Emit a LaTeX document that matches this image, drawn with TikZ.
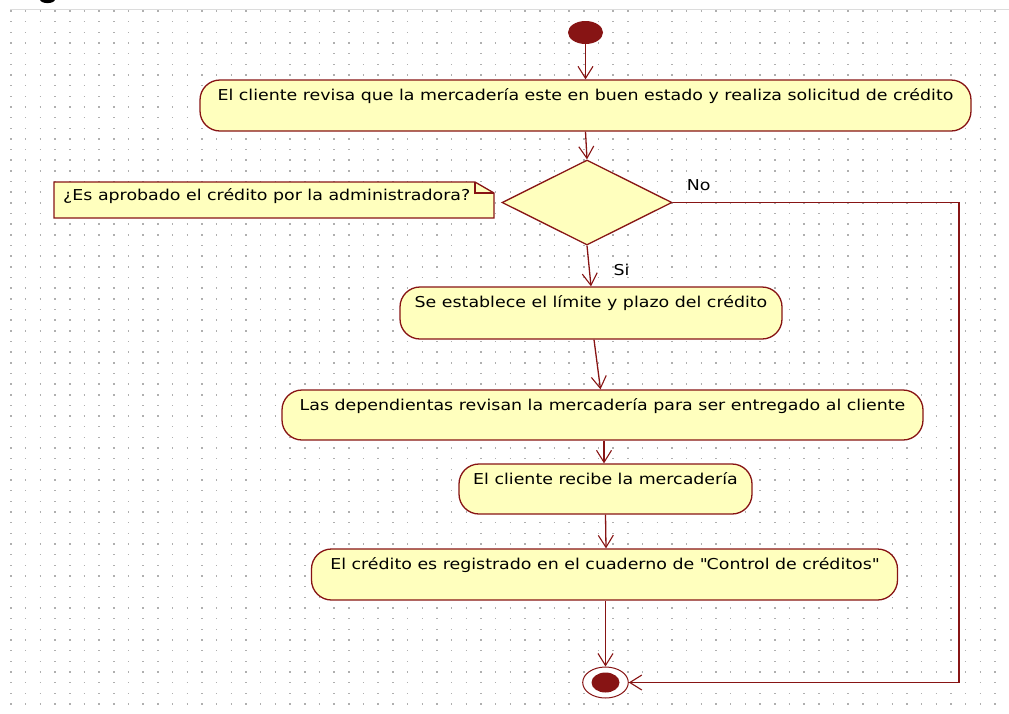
\documentclass[tikz,border=0pt]{standalone}
\usepackage{fontspec}
\setmainfont{DejaVu Sans}[FakeStretch=1.16]
\usetikzlibrary{shapes.geometric,arrows.meta}
\definecolor{umlred}{RGB}{135,20,20}
\definecolor{umlfill}{RGB}{255,255,190}
\definecolor{griddot}{RGB}{175,175,175}
\definecolor{frameline}{RGB}{220,220,220}
\newcommand{\umltext}{\fontsize{15}{18}\selectfont}
\begin{document}
\begin{tikzpicture}[x=1pt,y=-1pt,
  lbl/.style={font=\umltext, inner sep=0pt, text=black},
  action/.style={draw=umlred, fill=umlfill, line width=1.3pt, rounded corners=20pt,
    inner xsep=0pt, inner ysep=0pt, text height=20pt, font=\umltext},
  flow/.style={draw=umlred, line width=1.3pt,
    -{Straight Barb[length=12pt,width=15pt,line width=1.1pt]}},
  notebox/.style={draw=umlred, fill=umlfill, line width=1.3pt},
  startnode/.style={ellipse, fill=umlred, inner sep=0pt},
]
\useasboundingbox (0,0) rectangle (1009,713);

% canvas edge and dotted grid
\draw[frameline, line width=1pt] (10,9.5) -- (1009,9.5);
\foreach \j in {0,...,65}{
  \draw[griddot, line width=1.5pt, dash pattern=on 1.5pt off 13.1875pt]
    (10.25,{11+10.66*\j}) -- (1009,{11+10.66*\j});
}

% lower edge of the title lettering above the canvas
\begin{scope}
  \clip (0,0) rectangle (1009,9);
  \fill[black] (47.5,-0.5) ellipse [x radius=7.5, y radius=3.6];
\end{scope}

% initial node
\node[startnode, minimum width=35pt, minimum height=23pt] (start) at (585.5,32.5) {};

% actions
\node[action, minimum width=771pt, text depth=31pt] (a1) at (585.5,105.5)
  {El cliente revisa que la mercadería este en buen estado y realiza solicitud de crédito};
\node[shape=diamond, draw=umlred, fill=umlfill, line width=1.3pt, inner sep=0pt,
  minimum width=170pt, minimum height=85pt] (d) at (587,202.5) {};
\node[action, minimum width=382pt, text depth=32pt] (a2) at (591,313)
  {Se establece el límite y plazo del crédito};
\node[action, minimum width=641pt, text depth=30pt] (a3) at (602.5,415)
  {Las dependientas revisan la mercadería para ser entregado al cliente};
\node[action, minimum width=293pt, text depth=30pt] (a4) at (605.5,489)
  {El cliente recibe la mercadería};
\node[action, minimum width=586pt, text depth=31pt] (a5) at (604.5,574.5)
  {El crédito es registrado en el cuaderno de \textquotedbl Control de créditos\textquotedbl};

% final node
\node[ellipse, draw=umlred, fill=white, line width=1pt, inner sep=0pt,
  minimum width=45.6pt, minimum height=31pt] (end) at (605.5,682.5) {};
\node[startnode, minimum width=28pt, minimum height=20pt] (endcore) at (end.center) {};

% note attached to the decision
\path[notebox] (54,182) -- (475,182) -- (494,193) -- (494,218) -- (54,218) -- cycle;
\draw[umlred, line width=1.1pt] (475,182) -- (475,193) -- (494,193);
\node[lbl, anchor=base west] (notetxt) at (63,200.7)
  {¿Es aprobado el crédito por la administradora?};

% guard labels
\node[lbl, anchor=base west] (nolbl) at (686.7,190) {No};
\node[lbl, anchor=base west] (silbl) at (613.3,275) {Si};

% control flows
\coordinate (noturn) at (959,202.5);
\draw[flow] (start.south) -- (a1.north);
\draw[flow] (a1.south) -- (d.north);
\draw[flow] (d.south) -- (a2.north);
\draw[flow] ([xshift=3pt]a2.south) -- ([xshift=-2pt]a3.north);
\draw[flow] ([xshift=1.5pt]a3.south) -- ([xshift=-1.5pt]a4.north);
\draw[flow] (a4.south) -- ([xshift=1.5pt]a5.north);
\draw[flow] ([xshift=1pt]a5.south) -- (end.north);
\draw[flow] (d.east) -- (noturn) |- (end.east);
\end{tikzpicture}
\end{document}
